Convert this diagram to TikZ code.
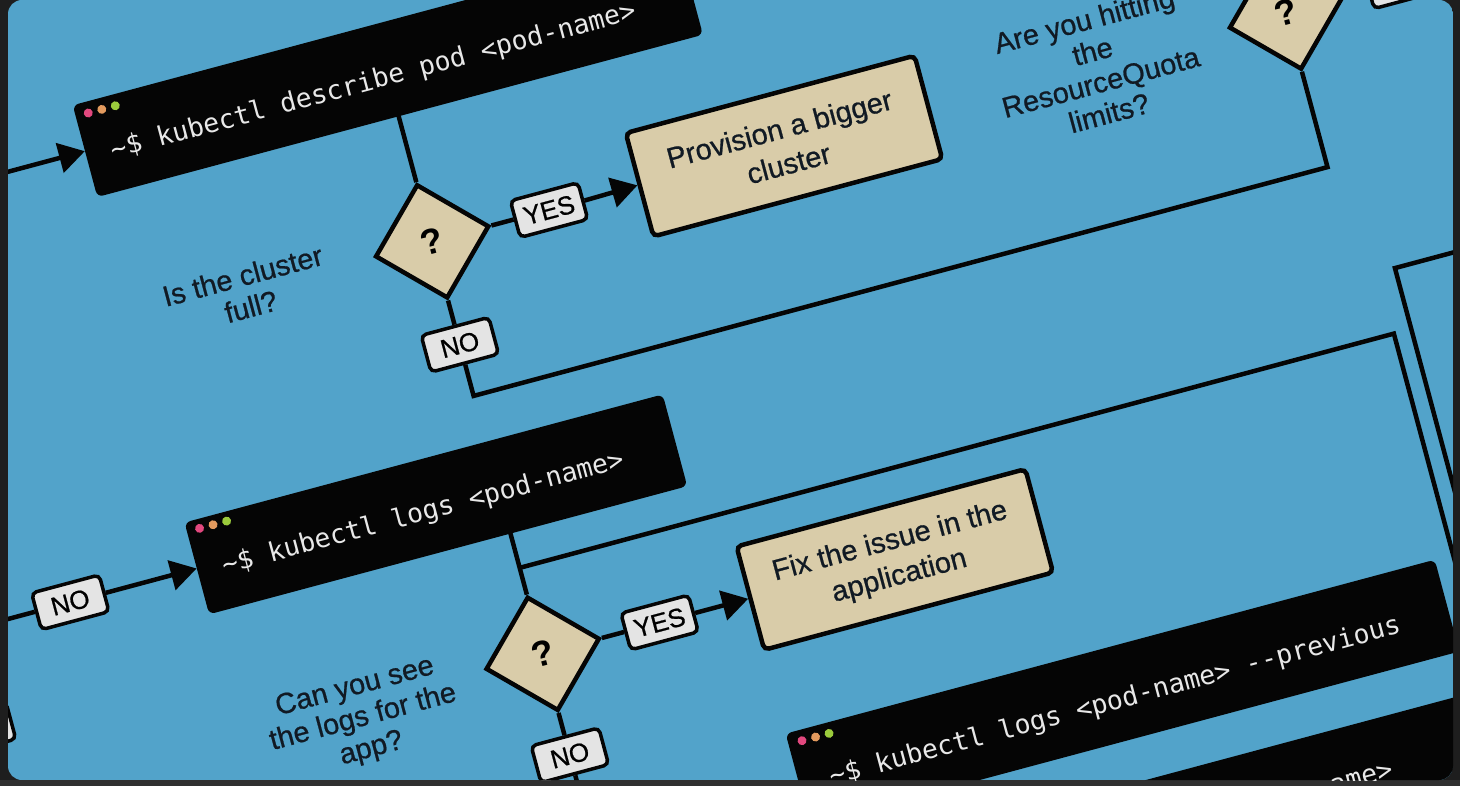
\documentclass[tikz,border=0pt]{standalone}
\usepackage{fontspec}
\setmainfont{Liberation Sans}
\newfontfamily\medfont[FakeBold=0.7]{Liberation Sans}
\newfontfamily\termfont{DejaVu Sans Mono}
\usetikzlibrary{shapes.geometric,arrows.meta}
\definecolor{bgdark}{HTML}{1E1E1E}
\definecolor{bgstrip}{HTML}{303030}
\definecolor{canvasblue}{HTML}{52A3CA}
\definecolor{tanfill}{HTML}{D9CCA9}
\definecolor{labelfill}{HTML}{E4E4E4}
\definecolor{inkblack}{HTML}{050505}
\definecolor{termtext}{HTML}{E8E8E8}
\definecolor{qtext}{HTML}{111A24}
\definecolor{dotred}{HTML}{E2487E}
\definecolor{dotorange}{HTML}{E39A5E}
\definecolor{dotgreen}{HTML}{9BCB3C}
\tikzset{
 termbox/.style={fill=inkblack, rounded corners=6pt, minimum height=95pt, inner sep=0pt},
 termtxt/.style={anchor=base west, text=termtext, font=\termfont\fontsize{26.5}{30}\selectfont, inner sep=0pt},
 actbox/.style={draw=inkblack, line width=4.5pt, fill=tanfill, rounded corners=5pt, minimum width=299pt, minimum height=107pt, align=center, font=\medfont\fontsize{29}{36}\selectfont, text=qtext},
 decision/.style={diamond, aspect=1, draw=inkblack, line width=4.5pt, fill=tanfill, minimum width=118pt, minimum height=118pt, inner sep=0pt, font=\bfseries\fontsize{36}{36}\selectfont},
 answer/.style={draw=inkblack, line width=3.5pt, fill=labelfill, rounded corners=5pt, minimum width=70pt, minimum height=38pt, inner sep=0pt, font=\medfont\fontsize{26}{26}\selectfont},
 question/.style={align=center, text=qtext, font=\medfont\fontsize{29}{32}\selectfont},
 wire/.style={draw=inkblack, line width=4.5pt},
 flow/.style={wire, -{Triangle[length=26pt,width=30pt]}},
 tlight/.style={circle, inner sep=0pt, minimum size=9pt},
}
\begin{document}
\begin{tikzpicture}[x=1pt,y=1pt]
\useasboundingbox (0,0) rectangle (1460,-786);
\fill[bgdark] (0,0) rectangle (1460,-786);
\fill[bgstrip] (0,-780) rectangle (1460,-786);
\begin{scope}
\clip[rounded corners=14pt] (8,0) rectangle (1453,-780);
\fill[canvasblue] (8,0) rectangle (1453,-780);
\begin{scope}[rotate=15, transform shape]
% row 1
\node[termbox, minimum width=627pt] (term1) at (356.5,-168) {};
\node[termtxt] (txt1) at (68,-183) {\textasciitilde\$ kubectl describe pod <pod-name>};
\node[tlight, fill=dotred] (r1) at (56,-132) {};
\node[tlight, fill=dotorange] (o1) at (70,-132) {};
\node[tlight, fill=dotgreen] (g1) at (84,-132) {};
\coordinate (inA) at (-300,-168);
\coordinate (t1b) at (355,-215);
\node[decision] (dia1) at (355,-345) {?};
\node[answer] (yes1) at (476,-345) {YES};
\node[actbox] (prov) at (719.5,-344) {Provision a bigger\\cluster};
\node[question] (q1) at (163,-345) {Is the cluster\\full?};
\node[answer] (no1) at (355,-452) {NO};
\coordinate (c1) at (355,-505);
\coordinate (c2) at (1239,-505);
\node[decision] (dia2) at (1239,-345) {?};
\node[question] (q2) at (1042,-348) {Are you hitting\\the\\ResourceQuota\\limits?};
\node[answer] (lab2) at (1360,-345) {};
% row 2
\node[termbox, minimum width=495pt] (term2) at (290.5,-600) {};
\node[termtxt] (txt2) at (68,-613) {\textasciitilde\$ kubectl logs <pod-name>};
\node[tlight, fill=dotred] (r2) at (56,-562) {};
\node[tlight, fill=dotorange] (o2) at (70,-562) {};
\node[tlight, fill=dotgreen] (g2) at (84,-562) {};
\coordinate (offL) at (-400,-600);
\node[answer] (no3) at (-88,-600) {NO};
\node[answer] (sliver) at (-211,-699) {};
\coordinate (t2b) at (355,-647);
\coordinate (j3) at (355,-683);
\coordinate (c3) at (1260,-683);
\coordinate (c4) at (1260,-1200);
\coordinate (e1) at (1600,-620);
\coordinate (e2) at (1278,-620);
\coordinate (e3) at (1278,-1200);
\node[decision] (dia3) at (355,-772) {?};
\node[answer] (yes3) at (476,-772) {YES};
\node[actbox] (fix) at (719.5,-772) {Fix the issue in the\\application};
\node[question] (q3) at (165,-788) {Can you see\\the logs for the\\app?};
\node[answer] (no4) at (355,-877) {NO};
\coordinate (down4) at (355,-1100);
% row 3
\node[termbox, minimum width=672pt] (term3) at (905,-959.5) {};
\node[termtxt] (txt3) at (600,-974) {\textasciitilde\$ kubectl logs <pod-name> --previous};
\node[tlight, fill=dotred] (r3) at (583,-923) {};
\node[tlight, fill=dotorange] (o3) at (597,-923) {};
\node[tlight, fill=dotgreen] (g3) at (611,-923) {};
\node[termbox, minimum width=672pt] (term4) at (905,-1097.5) {};
\node[termtxt] (txt4) at (603,-1112) {\textasciitilde\$ kubectl describe pod <pod-name>};
% connectors
\draw[flow] (inA) -- (term1.west);
\draw[wire] (t1b) -- (dia1.north);
\draw[wire] (dia1.east) -- (yes1.west);
\draw[flow] (yes1.east) -- (prov.west);
\draw[wire] (dia1.south) -- (no1.north);
\draw[wire, line join=miter] (no1.south) -- (c1) -- (c2) -- (dia2.south);
\draw[wire] (dia2.east) -- (lab2.west);
\draw[wire] (offL) -- (no3.west);
\draw[flow] (no3.east) -- (term2.west);
\draw[wire] (t2b) -- (dia3.north);
\draw[wire, line join=miter] (j3) -- (c3) -- (c4);
\draw[wire, line join=miter] (e1) -- (e2) -- (e3);
\draw[wire] (dia3.east) -- (yes3.west);
\draw[flow] (yes3.east) -- (fix.west);
\draw[wire] (dia3.south) -- (no4.north);
\draw[wire] (no4.south) -- (down4);
\end{scope}
\end{scope}
\end{tikzpicture}
\end{document}
